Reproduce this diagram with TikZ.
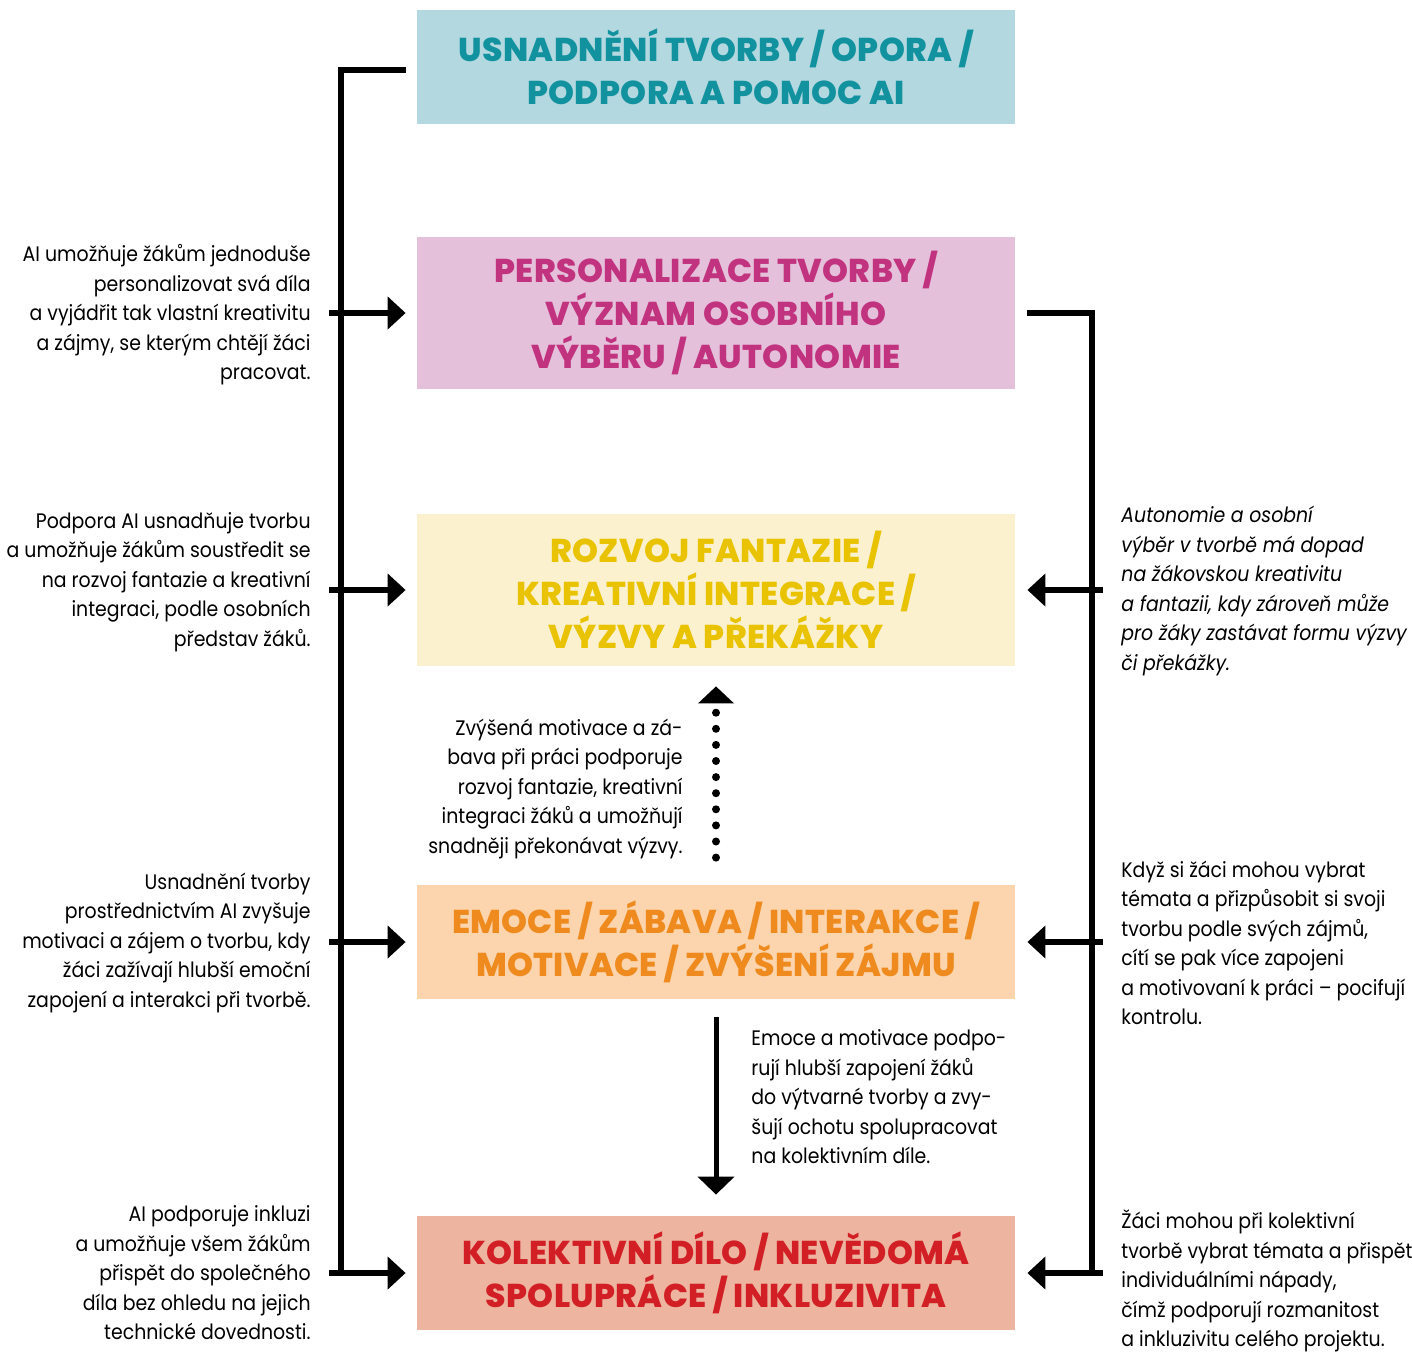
\documentclass[tikz,border=0pt]{standalone}
\usepackage{fontspec}
\setmainfont{Poppins}[FakeStretch=0.9]
\newfontfamily\titlefont{Poppins}[FakeStretch=1.0, BoldFont={* ExtraBold}, LetterSpace=1]
\usetikzlibrary{arrows.meta,calc}
\definecolor{c1f}{HTML}{B3D8E0}\definecolor{c1t}{HTML}{12929F}
\definecolor{c2f}{HTML}{E5C0DA}\definecolor{c2t}{HTML}{C1327F}
\definecolor{c3f}{HTML}{FBF1CE}\definecolor{c3t}{HTML}{E9C300}
\definecolor{c4f}{HTML}{FCD5AE}\definecolor{c4t}{HTML}{EF8A1F}
\definecolor{c5f}{HTML}{EDB59F}\definecolor{c5t}{HTML}{D21F26}
\tikzset{
  box/.style={minimum width=299pt, inner sep=0pt, align=center,
    font=\titlefont\bfseries\fontsize{16.5}{21.5}\selectfont},
  bodytxt/.style={inner sep=0pt, font=\fontsize{10.5}{14.75}\selectfont},
  ltxt/.style={bodytxt, align=right, anchor=east},
  rtxt/.style={bodytxt, align=left, anchor=west},
  bracket/.style={line width=2.75pt},
  harrow/.style={line width=2.75pt, -{Triangle[length=9pt,width=16pt]}},
  varrow/.style={line width=2.5pt, -{Triangle[length=9pt,width=18pt]}},
  dotarrow/.style={line width=4pt, line cap=round, dash pattern=on 0pt off 8.05pt,
     -{Triangle[length=8.5pt,width=17.5pt,line cap=butt]}},
}
\begin{document}
\begin{tikzpicture}[x=0.5pt,y=-0.5pt]
\useasboundingbox (0,0) rectangle (1412,1352);
% boxes
\node[box, fill=c1f, text=c1t, minimum height=57pt] (b1) at (716,67)
  {USNADNĚNÍ TVORBY / OPORA /\\PODPORA A POMOC AI};
\node[box, fill=c2f, text=c2t, minimum height=76pt] (b2) at (716,313)
  {PERSONALIZACE TVORBY /\\VÝZNAM OSOBNÍHO\\VÝBĚRU / AUTONOMIE};
\node[box, fill=c3f, text=c3t, minimum height=76pt] (b3) at (716,590)
  {ROZVOJ FANTAZIE /\\KREATIVNÍ INTEGRACE /\\VÝZVY A PŘEKÁŽKY};
\node[box, fill=c4f, text=c4t, minimum height=57pt] (b4) at (716,942)
  {EMOCE / ZÁBAVA / INTERAKCE /\\MOTIVACE / ZVÝŠENÍ ZÁJMU};
\node[box, fill=c5f, text=c5t, minimum height=57pt] (b5) at (716,1273)
  {KOLEKTIVNÍ DÍLO / NEVĚDOMÁ\\SPOLUPRÁCE / INKLUZIVITA};
% left texts
\node[ltxt] (l1) at (311,315) {AI umožňuje žákům jednoduše\\personalizovat svá díla\\a vyjádřit tak vlastní kreativitu\\a zájmy, se kterým chtějí žáci\\pracovat.};
\node[ltxt] (l2) at (311,582) {Podpora AI usnadňuje tvorbu\\a umožňuje žákům soustředit se\\na rozvoj fantazie a kreativní\\integraci, podle osobních\\představ žáků.};
\node[ltxt] (l3) at (311,943) {Usnadnění tvorby\\prostřednictvím AI zvyšuje\\motivaci a zájem o tvorbu, kdy\\žáci zažívají hlubší emoční\\zapojení a interakci při tvorbě.};
\node[ltxt] (l4) at (311,1273) {AI podporuje inkluzi\\a umožňuje všem žákům\\přispět do společného\\díla bez ohledu na jejich\\technické dovednosti.};
% middle texts
\node[ltxt] (m1) at (683,789) {Zvýšená motivace a zá-\\bava při práci podporuje\\rozvoj fantazie, kreativní\\integraci žáků a umožňují\\snadněji překonávat výzvy.};
\node[rtxt] (m2) at (751,1097) {Emoce a motivace podpo-\\rují hlubší zapojení žáků\\do výtvarné tvorby a zvy-\\šují ochotu spolupracovat\\na kolektivním díle.};
% right texts
\node[rtxt, font=\fontsize{10.5}{14.75}\selectfont\itshape] (r1) at (1121,591) {Autonomie a osobní\\výběr v tvorbě má dopad\\na žákovskou kreativitu\\a fantazii, kdy zároveň může\\pro žáky zastávat formu výzvy\\či překážky.};
\node[rtxt] (r2) at (1121,943) {Když si žáci mohou vybrat\\témata a přizpůsobit si svoji\\tvorbu podle svých zájmů,\\cítí se pak více zapojeni\\a motivovaní k práci – pocifují\\kontrolu.};
\node[rtxt] (r3) at (1121,1281) {Žáci mohou při kolektivní\\tvorbě vybrat témata a přispět\\individuálními nápady,\\čímž podporují rozmanitost\\a inkluzivitu celého projektu.};
% left bracket
\coordinate (ls) at (341,0);
\coordinate (lt) at ($(b1.west)+(-11,3)$);
\draw[bracket] (lt) -- ($(lt -| ls)+(-2.75,0)$);
\draw[bracket] (lt -| ls) -- ($(b5.west -| ls)+(0,2.75)$);
\foreach \b in {b2,b3,b4,b5}{
  \draw[harrow] ($(\b.west -| ls)+(-12,0)$) -- ($(\b.west)+(-11,0)$);
}
% right bracket
\coordinate (rs) at (1092,0);
\coordinate (rt) at ($(b2.east)+(12,0)$);
\draw[bracket] (rt) -- ($(rt -| rs)+(2.75,0)$);
\draw[bracket] (rt -| rs) -- ($(b5.east -| rs)+(0,2.75)$);
\foreach \b in {b3,b4,b5}{
  \draw[harrow] ($(\b.east -| rs)+(11,0)$) -- ($(\b.east)+(12,0)$);
}
% vertical arrows
\draw[dotarrow] ($(b4.north)+(0,-27)$) -- ($(b3.south)+(0,20)$);
\draw[varrow] ($(b4.south)+(0,18)$) -- ($(b5.north)+(0,-21)$);
\end{tikzpicture}
\end{document}
